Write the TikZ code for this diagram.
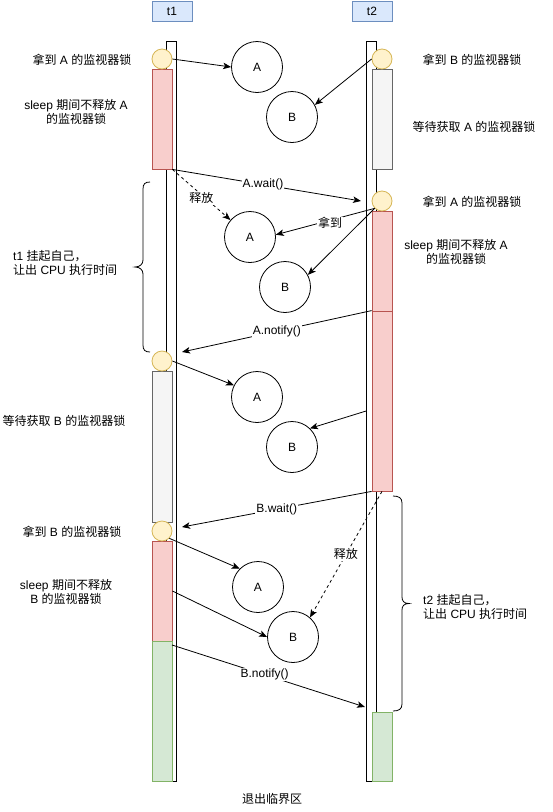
\documentclass[tikz,border=0pt]{standalone}
\usepackage{fontspec}
\setmainfont{Liberation Sans}
\newfontfamily\cjk{Noto Sans CJK SC}
\usetikzlibrary{arrows.meta}
\newcommand\zh[1]{{\cjk #1}}
\definecolor{yfill}{HTML}{FFF2CC}
\definecolor{ydraw}{HTML}{D6B656}
\definecolor{pfill}{HTML}{F8CECC}
\definecolor{pdraw}{HTML}{B85450}
\definecolor{gfill}{HTML}{F5F5F5}
\definecolor{gdraw}{HTML}{666666}
\definecolor{efill}{HTML}{D5E8D4}
\definecolor{edraw}{HTML}{82B366}
\definecolor{hfill}{HTML}{DAE8FC}
\definecolor{hdraw}{HTML}{6C8EBF}
\begin{document}
\begin{tikzpicture}[x=1pt,y=-1pt,
  every node/.style={font=\fontsize{12}{14}\selectfont, inner sep=0pt},
  life/.style={draw=black, fill=white, minimum width=10pt, minimum height=740pt, line width=0.8pt},
  hdr/.style={draw=hdraw, fill=hfill, minimum width=40pt, minimum height=20pt, line width=0.8pt},
  bar/.style={minimum width=20pt, line width=0.8pt},
  pinkbar/.style={bar, draw=pdraw, fill=pfill},
  greybar/.style={bar, draw=gdraw, fill=gfill},
  greenbar/.style={bar, draw=edraw, fill=efill},
  lock/.style={circle, draw=ydraw, fill=yfill, minimum size=20pt, line width=0.8pt},
  obj/.style={circle, draw=black, minimum size=51pt, line width=0.8pt},
  arr/.style={-{Stealth[length=8pt,width=6.5pt,inset=2pt]}, line width=0.8pt},
  dsh/.style={dash pattern=on 3pt off 3pt},
  lbl/.style={fill=white, inner sep=1pt},
  brace/.style={line width=0.8pt}
]
\useasboundingbox (0,0) rectangle (553,812);

% headers
\node[hdr] (h1) at (172,11) {t1};
\node[hdr] (h2) at (372,11) {t2};

% lifelines
\node[life] (L1) at (171.5,411) {};
\node[life] (L2) at (371.5,411) {};

% t1 bars
\node[pinkbar, minimum height=100pt] (p1) at (162,119) {};
\node[greybar, minimum height=151pt] (gr1) at (162,446.5) {};
\node[pinkbar, minimum height=100pt] (p4) at (162,591) {};
\node[greenbar, minimum height=140pt] (g1) at (162,711) {};
\node[lock] (c1) at (162,59) {};
\node[lock] (c2) at (162,361) {};
\node[lock] (c3) at (162,531) {};

% t2 bars
\node[greybar, minimum height=100pt] (gr2) at (382,119) {};
\node[pinkbar, minimum height=100pt] (p2) at (382,261) {};
\node[pinkbar, minimum height=180pt] (p3) at (382,401) {};
\node[greenbar, minimum height=69pt] (g2) at (382,746.5) {};
\node[lock] (c4) at (382,59) {};
\node[lock] (c5) at (382,201) {};

% objects
\node[obj] (a1) at (257,67) {A};
\node[obj] (b1) at (292,117) {B};
\node[obj] (a2) at (250,237) {A};
\node[obj] (b2) at (285,287) {B};
\node[obj] (a3) at (257,397) {A};
\node[obj] (b3) at (292,447) {B};
\node[obj] (a4) at (258,587) {A};
\node[obj] (b4) at (293,637) {B};

% free ends
\coordinate (w1e) at (361,201);
\coordinate (n1e) at (182,352);
\coordinate (w2e) at (182,527);
\coordinate (n2s) at (172,645);
\coordinate (n2e) at (365,707);

% connectors
\draw[arr] (c1.east) -- (a1.west);
\draw[arr] (c4.west) -- (b1.28);
\draw[arr] (p1.south east) -- node[lbl,pos=0.48]{A.wait()} (w1e);
\draw[arr,dsh] (p1.south east) -- node[lbl,yshift=-3.5pt]{\zh{释放}} (a2.139);
\draw[arr] (c5.225) -- node[lbl,pos=0.45,yshift=-3pt]{\zh{拿到}} (a2.5);
\draw[arr] (c5.225) -- (b2.28);
\draw[arr] (p3.north west) -- node[lbl]{A.notify()} (n1e);
\draw[arr] (c2.east) -- (a3.153);
\draw[arr] (L2.west) -- (b3.46);
\draw[arr] (p3.south west) -- node[lbl]{B.wait()} (w2e);
\draw[arr,dsh] (p3.south) -- node[lbl]{\zh{释放}} (b4.49);
\draw[arr] (c3.-45) -- (a4.135);
\draw[arr] (p4.east) -- (b4.west);
\draw[arr] (n2s) -- node[lbl,pos=0.48]{B.notify()} (n2e);

% braces
\draw[brace] (150,182) .. controls (145,182) and (143,184) .. (143,189) -- (143,260)
  .. controls (143,264) and (140,267) .. (135,267) .. controls (140,267) and (143,270) .. (143,274)
  -- (143,345) .. controls (143,350) and (145,352) .. (150,352);
\draw[brace] (393,496) .. controls (399,496) and (402,498) .. (402,503) -- (402,597)
  .. controls (402,601) and (404,603.5) .. (409,603.5) .. controls (404,603.5) and (402,606) .. (402,610)
  -- (402,704) .. controls (402,709) and (399,711) .. (393,711);

% texts
\node (t1a) at (82,60) {\zh{拿到} A \zh{的监视器锁}};
\node[align=center] (t1b) at (76,111.5) {sleep \zh{期间不释放} A\\\zh{的监视器锁}};
\node[align=left, anchor=west] (t1c) at (13,263) {t1 \zh{挂起自己，}\\\zh{让出} CPU \zh{执行时间}};
\node (t1d) at (64,421) {\zh{等待获取} B \zh{的监视器锁}};
\node (t1e) at (72,532) {\zh{拿到} B \zh{的监视器锁}};
\node[align=center] (t1f) at (66,591.5) {sleep \zh{期间不释放}\\B \zh{的监视器锁}};

\node (t2a) at (472,60) {\zh{拿到} B \zh{的监视器锁}};
\node (t2b) at (474,127) {\zh{等待获取} A \zh{的监视器锁}};
\node (t2c) at (472,202) {\zh{拿到} A \zh{的监视器锁}};
\node[align=center] (t2d) at (456,252) {sleep \zh{期间不释放} A\\\zh{的监视器锁}};
\node[align=left, anchor=west] (t2e) at (423,606.5) {t2 \zh{挂起自己，}\\\zh{让出} CPU \zh{执行时间}};

\node (exit) at (272,799) {\zh{退出临界区}};
\end{tikzpicture}
\end{document}
